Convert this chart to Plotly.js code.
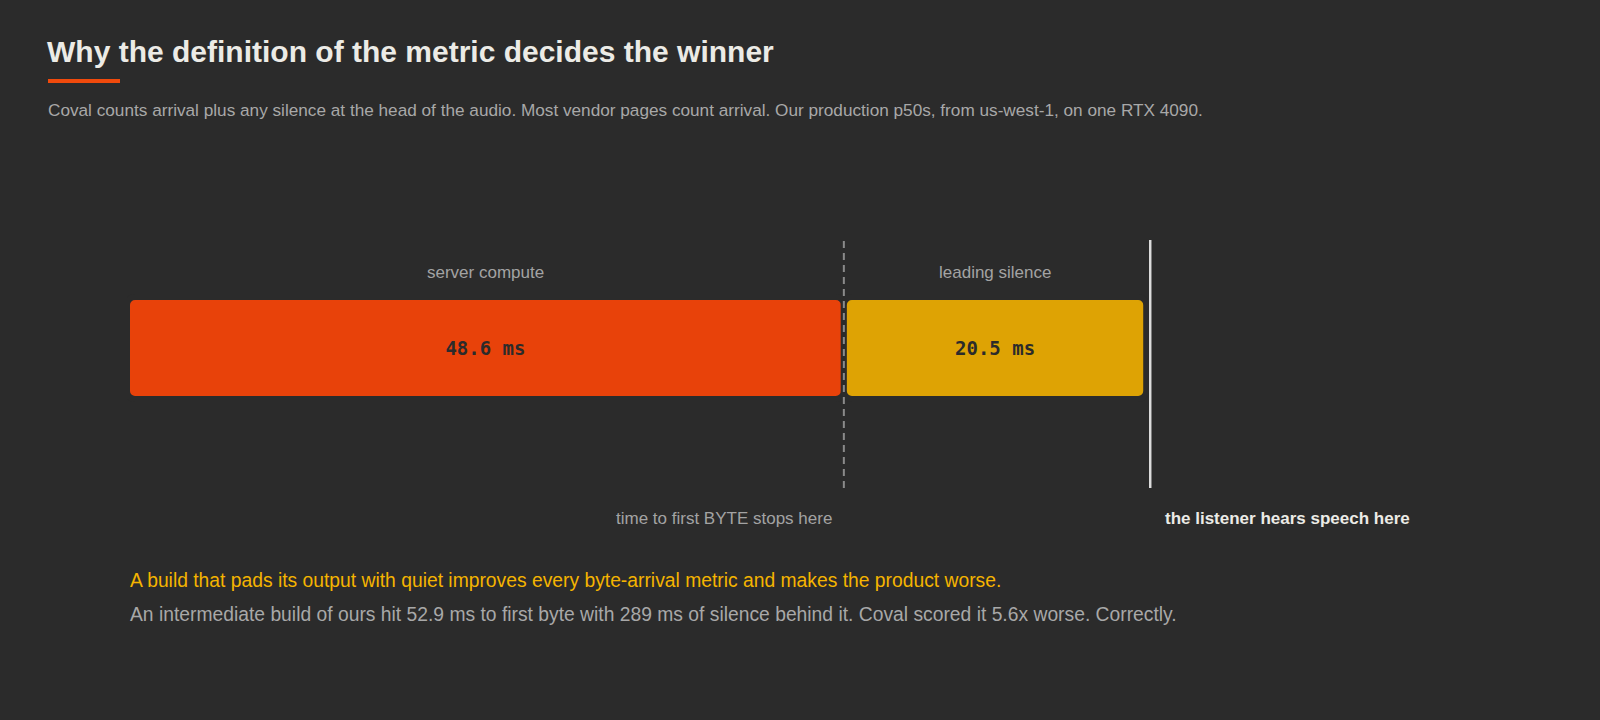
<!DOCTYPE html>
<html>
<head>
<meta charset="utf-8">
<script src="https://cdn.plot.ly/plotly-3.0.1.min.js"></script>
<style>
  html, body { margin: 0; padding: 0; background: #2b2b2b; }
  #chart { width: 1600px; height: 720px; }
</style>
</head>
<body>
<div id="chart"></div>
<script>
// ---- data ----
const segments = ["server compute", "leading silence"];
const durationsMs = [48.6, 20.5];
const segmentColors = ["#e8420a", "#dea304"];
const markerLabels = ["time to first BYTE stops here", "the listener hears speech here"];
const titleText = "Why the definition of the metric decides the winner";
const subtitleText = "Coval counts arrival plus any silence at the head of the audio. Most vendor pages count arrival. Our production p50s, from us-west-1, on one RTX 4090.";
const noteHighlight = "A build that pads its output with quiet improves every byte-arrival metric and makes the product worse.";
const noteDetail = "An intermediate build of ours hit 52.9 ms to first byte with 289 ms of silence behind it. Coval scored it 5.6x worse. Correctly.";

// cumulative starts
const bases = [];
let acc = 0;
durationsMs.forEach(d => { bases.push(acc); acc += d; });
const total = acc;

// ---- layout geometry (pixels) ----
const PX_PER_MS = 14.75;
const L = 127, R = 1160, T = 240, B = 488;
const W = R - L, H = B - T;
const px = x => (x - L) / W;
const py = y => (B - y) / H;
const END_LINE_PAD_PX = 4;   // visual padding of the end marker past the last bar
const endLineX = total + END_LINE_PAD_PX / PX_PER_MS;

const SANS = "Liberation Sans, Arial, Helvetica, sans-serif";
const MONO = "DejaVu Sans Mono, monospace";

const trace = {
  type: "bar",
  orientation: "h",
  y: segments.map(() => 0),
  x: durationsMs,
  base: bases,
  width: 0.823,
  marker: {
    color: segmentColors,
    line: { color: "#2b2b2b", width: 6 },
    cornerradius: 8
  },
  text: durationsMs.map(v => v.toFixed(1) + " ms"),
  textposition: "inside",
  insidetextanchor: "middle",
  textangle: 0,
  constraintext: "none",
  textfont: { family: MONO, size: 19, color: "#2b2b2b", weight: 700 },
  hoverinfo: "skip"
};

const annotations = [];
// segment labels above the bars
segments.forEach((s, i) => {
  annotations.push({
    xref: "x", yref: "paper",
    x: bases[i] + durationsMs[i] / 2, y: py(272),
    text: s, showarrow: false, xanchor: "center", yanchor: "middle",
    font: { family: SANS, size: 17, color: "#a3a3a3" }
  });
});
// marker labels
annotations.push({
  xref: "paper", yref: "paper", x: px(834), y: py(518),
  text: markerLabels[0], showarrow: false, xanchor: "right", yanchor: "middle",
  font: { family: SANS, size: 17, color: "#a3a3a3" }
});
annotations.push({
  xref: "paper", yref: "paper", x: px(1163), y: py(518),
  text: "<b>" + markerLabels[1] + "</b>", showarrow: false, xanchor: "left", yanchor: "middle",
  font: { family: SANS, size: 17, color: "#ecebe6" }
});
// subtitle
annotations.push({
  xref: "paper", yref: "paper", x: px(46), y: py(110),
  text: subtitleText, showarrow: false, xanchor: "left", yanchor: "middle",
  font: { family: SANS, size: 17.2, color: "#a8a8a8" }
});
// notes
annotations.push({
  xref: "paper", yref: "paper", x: px(128), y: py(580),
  text: noteHighlight, showarrow: false, xanchor: "left", yanchor: "middle",
  font: { family: SANS, size: 19.3, color: "#f5b400" }
});
annotations.push({
  xref: "paper", yref: "paper", x: px(128), y: py(614),
  text: noteDetail, showarrow: false, xanchor: "left", yanchor: "middle",
  font: { family: SANS, size: 19.3, color: "#a8a8a8" }
});

const shapes = [
  // title underline
  { type: "rect", xref: "paper", yref: "paper",
    x0: px(48), x1: px(120), y0: py(83), y1: py(79),
    fillcolor: "#f04a0c", line: { width: 0 } },
  // time to first byte
  { type: "line", xref: "x", yref: "paper",
    x0: bases[1], x1: bases[1], y0: 0, y1: 1,
    line: { color: "#8a8a8a", width: 2, dash: "7px,5px" } },
  // listener hears speech
  { type: "line", xref: "x", yref: "paper",
    x0: endLineX, x1: endLineX, y0: 0, y1: 1,
    line: { color: "#dcdcdc", width: 2.5 } }
];

const layout = {
  width: 1600, height: 720,
  paper_bgcolor: "#2b2b2b", plot_bgcolor: "#2b2b2b",
  margin: { l: L, r: 1600 - R, t: T, b: 720 - B, pad: 0 },
  showlegend: false,
  title: {
    text: "<b>" + titleText + "</b>",
    xref: "container", yref: "container",
    x: 47 / 1600, xanchor: "left",
    y: 1 - 51 / 720, yanchor: "middle",
    font: { family: SANS, size: 30, color: "#ecebe6" }
  },
  xaxis: { range: [0, W / PX_PER_MS], visible: false, fixedrange: true },
  yaxis: { range: [-1.129, 0.871], visible: false, fixedrange: true },
  annotations: annotations,
  shapes: shapes,
  hovermode: false
};

Plotly.newPlot("chart", [trace], layout, { staticPlot: true, displayModeBar: false });
</script>
</body>
</html>
